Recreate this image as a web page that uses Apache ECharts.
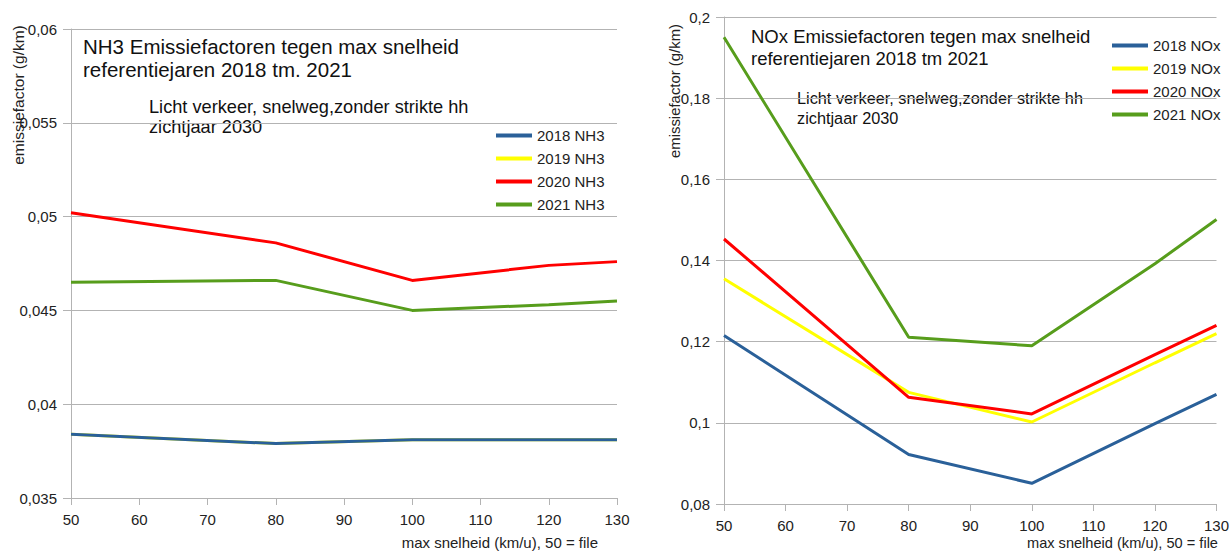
<!DOCTYPE html>
<html>
<head>
<meta charset="utf-8">
<script src="https://cdn.jsdelivr.net/npm/echarts@6/dist/echarts.min.js"></script>
<style>
html,body{margin:0;padding:0;background:#fff;}
#main{width:1232px;height:552px;}
</style>
</head>
<body>
<div id="main"></div>
<script>
// ---- data ----
const speeds = [50, 80, 100, 120, 130];
const xTicks = [50, 60, 70, 80, 90, 100, 110, 120, 130];

const nh3Names = ['2018 NH3', '2019 NH3', '2020 NH3', '2021 NH3'];
const nh3_2018 = [0.0384, 0.0379, 0.0381, 0.0381, 0.0381];
const nh3_2019 = [0.0384, 0.0379, 0.0381, 0.0381, 0.0381];
const nh3_2020 = [0.0502, 0.0486, 0.0466, 0.0474, 0.0476];
const nh3_2021 = [0.0465, 0.0466, 0.0450, 0.0453, 0.0455];
const nh3Ticks = [0.035, 0.04, 0.045, 0.05, 0.055, 0.06];

const noxNames = ['2018 NOx', '2019 NOx', '2020 NOx', '2021 NOx'];
const nox_2018 = [0.1215, 0.0922, 0.0851, 0.0998, 0.1070];
const nox_2019 = [0.1355, 0.1075, 0.1002, 0.1148, 0.1220];
const nox_2020 = [0.1453, 0.1063, 0.1022, 0.1168, 0.1240];
const nox_2021 = [0.1950, 0.1211, 0.1190, 0.1392, 0.1501];
const noxTicks = [0.08, 0.1, 0.12, 0.14, 0.16, 0.18, 0.2];

const colors = ['#2a6099', '#ffff00', '#ff0000', '#579d1c'];

// ---- build ----
const FONT = '"Liberation Sans", Arial, sans-serif';
const gridColor = '#b3b3b3';
const labelColor = '#222';

function pairs(vals) { return speeds.map((s, i) => [s, vals[i]]); }
function fmt(v) { return String(parseFloat(v.toFixed(4))).replace('.', ','); }

function xAxisCfg(gi) {
  return {
    type: 'value', gridIndex: gi, min: xTicks[0], max: xTicks[xTicks.length - 1], interval: 10,
    axisLine: { show: true, lineStyle: { color: gridColor, width: 1 } },
    axisTick: { show: true, length: 7, lineStyle: { color: gridColor } },
    axisLabel: { color: labelColor, fontFamily: FONT, fontSize: 15, margin: 14 },
    splitLine: { show: false }
  };
}
function yAxisCfg(gi, ticks) {
  return {
    type: 'value', gridIndex: gi, min: ticks[0], max: ticks[ticks.length - 1],
    interval: +(ticks[1] - ticks[0]).toFixed(4),
    axisLine: { show: true, lineStyle: { color: gridColor, width: 1 } },
    axisTick: { show: true, length: 8, lineStyle: { color: gridColor } },
    axisLabel: { color: labelColor, fontFamily: FONT, fontSize: 15, margin: 14, formatter: fmt },
    splitLine: { show: true, lineStyle: { color: gridColor, width: 1 } }
  };
}

const series = [];
const nh3Data = [nh3_2018, nh3_2019, nh3_2020, nh3_2021];
const noxData = [nox_2018, nox_2019, nox_2020, nox_2021];
nh3Data.forEach((d, i) => series.push({
  name: nh3Names[i], type: 'line', xAxisIndex: 0, yAxisIndex: 0, data: pairs(d),
  symbol: 'none', lineStyle: { width: 3, color: colors[i] }, itemStyle: { color: colors[i] },
  z: i === 0 ? 5 : 2, animation: false
}));
noxData.forEach((d, i) => series.push({
  name: noxNames[i], type: 'line', xAxisIndex: 1, yAxisIndex: 1, data: pairs(d),
  symbol: 'none', lineStyle: { width: 3, color: colors[i] }, itemStyle: { color: colors[i] },
  z: 2, animation: false
}));

function legendCfg(names, left, top) {
  return {
    data: names, orient: 'vertical', left: left, top: top, icon: 'rect',
    itemWidth: 36, itemHeight: 4, itemGap: 6, padding: 0,
    textStyle: { fontFamily: FONT, fontSize: 15, color: labelColor, lineHeight: 17 },
    selectedMode: false
  };
}

function txt(x, y, text, size, lh) {
  return {
    type: 'text', x: x, y: y,
    style: { text: text, fontFamily: FONT, fontSize: size, lineHeight: lh, fill: '#111',
      textVerticalAlign: 'top', textAlign: 'left' }
  };
}
function axisName(x, y, text, size, rotated, align) {
  return { type: 'text', x: x, y: y, rotation: rotated ? Math.PI / 2 : 0,
    style: { text: text, fontFamily: FONT, fontSize: size, fill: labelColor,
      textAlign: align, textVerticalAlign: 'middle' } };
}

const option = {
  animation: false,
  backgroundColor: '#fff',
  grid: [
    { left: 71, top: 29, width: 546, height: 469 },
    { left: 724, top: 17, width: 495, height: 487 }
  ],
  xAxis: [xAxisCfg(0), xAxisCfg(1)],
  yAxis: [yAxisCfg(0, nh3Ticks), yAxisCfg(1, noxTicks)],
  legend: [legendCfg(nh3Names, 496, 127), legendCfg(noxNames, 1112, 37)],
  series: series,
  graphic: [
    txt(83, 35.5, 'NH3 Emissiefactoren tegen max snelheid\nreferentiejaren 2018 tm. 2021', 20.5, 22.5),
    txt(149, 97, 'Licht verkeer, snelweg,zonder strikte hh\nzichtjaar 2030', 18.2, 20),
    txt(751, 25, 'NOx Emissiefactoren tegen max snelheid\nreferentiejaren 2018 tm 2021', 18.5, 22.3),
    txt(797, 87.6, 'Licht verkeer, snelweg,zonder strikte hh\nzichtjaar 2030', 16.3, 20),
    axisName(18, 95, 'emissiefactor (g/km)', 15.5, true, 'center'),
    axisName(675, 91, 'emissiefactor (g/km)', 14.9, true, 'center'),
    axisName(598, 542, 'max snelheid (km/u), 50 = file', 15, false, 'right'),
    axisName(1218, 543, 'max snelheid (km/u), 50 = file', 14.6, false, 'right')
  ]
};

const chart = echarts.init(document.getElementById('main'), null, { renderer: 'svg' });
chart.setOption(option);
</script>
</body>
</html>
